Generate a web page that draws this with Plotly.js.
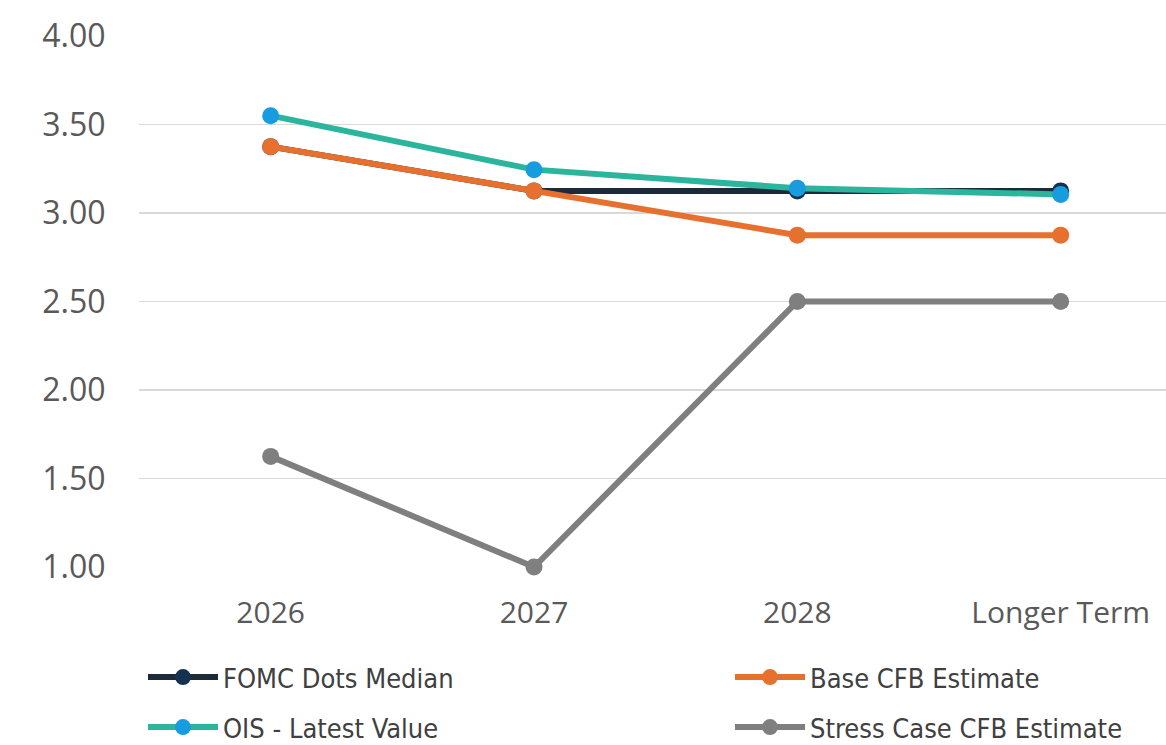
<!DOCTYPE html>
<html>
<head>
<meta charset="utf-8">
<script src="https://cdn.plot.ly/plotly-3.0.1.min.js"></script>
<style>
  html, body { margin: 0; padding: 0; background: #ffffff; }
  #chart { width: 1166px; height: 745px; }
</style>
</head>
<body>
<div id="chart"></div>
<script>
// Policy rate path projections (%)
const horizons = ['2026', '2027', '2028', 'Longer Term'];
const fomcDotsMedian = [3.375, 3.125, 3.125, 3.125];
const baseCfbEstimate = [3.375, 3.125, 2.875, 2.875];
const oisLatestValue = [3.55, 3.245, 3.14, 3.105];
const stressCaseCfbEstimate = [1.625, 1.00, 2.50, 2.50];
const yTickValues = [1.0, 1.5, 2.0, 2.5, 3.0, 3.5, 4.0];
const yTickLabels = ['1.00', '1.50', '2.00', '2.50', '3.00', '3.50', '4.00'];

const W = 1166, H = 745;

// Every series gets its own legend box so the key forms a 2 x 2 grid
function series(name, values, lineColor, markerColor, legendId) {
  return {
    type: 'scatter',
    mode: 'lines+markers',
    name: name,
    legend: legendId,
    x: horizons,
    y: values,
    line: { color: lineColor, width: 6 },
    marker: { color: markerColor, size: 17 },
    cliponaxis: false,
    hoverinfo: 'x+y+name'
  };
}

const traces = [
  series('FOMC Dots Median', fomcDotsMedian, '#1d2a3a', '#143150', 'legend'),
  series('Base CFB Estimate', baseCfbEstimate, '#e8702f', '#e8702f', 'legend2'),
  series('OIS - Latest Value', oisLatestValue, '#2bb59d', '#179ce0', 'legend3'),
  series('Stress Case CFB Estimate', stressCaseCfbEstimate, '#7f7f7f', '#7f7f7f', 'legend4')
];

const legendFont = { family: 'DejaVu Sans Condensed, DejaVu Sans, sans-serif', size: 27, color: '#404040' };

// legend box placed by its top-left corner, in page pixels
function legendBox(leftPx, topPx) {
  return {
    orientation: 'h',
    xref: 'container',
    yref: 'container',
    x: leftPx / W,
    xanchor: 'left',
    y: 1 - topPx / H,
    yanchor: 'top',
    itemwidth: 70,
    font: legendFont,
    bgcolor: 'rgba(0,0,0,0)'
  };
}

const layout = {
  width: W,
  height: H,
  margin: { l: 139, r: 0, t: 36, b: 178 },
  paper_bgcolor: '#ffffff',
  plot_bgcolor: '#ffffff',
  showlegend: true,
  xaxis: {
    type: 'category',
    range: [-0.5, 3.40],
    showgrid: false,
    zeroline: false,
    showline: false,
    ticks: 'outside',
    ticklen: 19,
    tickcolor: 'rgba(0,0,0,0)',
    tickangle: 0,
    tickfont: { family: 'Open Sans, sans-serif', size: 30, color: '#595959' },
    automargin: false,
    fixedrange: true
  },
  yaxis: {
    range: [1, 4],
    tickvals: yTickValues,
    ticktext: yTickLabels,
    showgrid: true,
    gridcolor: '#d9d9d9',
    gridwidth: 1.5,
    zeroline: false,
    showline: false,
    ticks: 'outside',
    ticklen: 26,
    tickcolor: 'rgba(0,0,0,0)',
    tickfont: { family: 'Open Sans, sans-serif', size: 32, color: '#595959' },
    automargin: false,
    fixedrange: true
  },
  legend: legendBox(143, 653),
  legend2: legendBox(730, 653),
  legend3: legendBox(143, 703),
  legend4: legendBox(730, 703)
};

Plotly.newPlot('chart', traces, layout, { displayModeBar: false, staticPlot: true });
</script>
</body>
</html>
